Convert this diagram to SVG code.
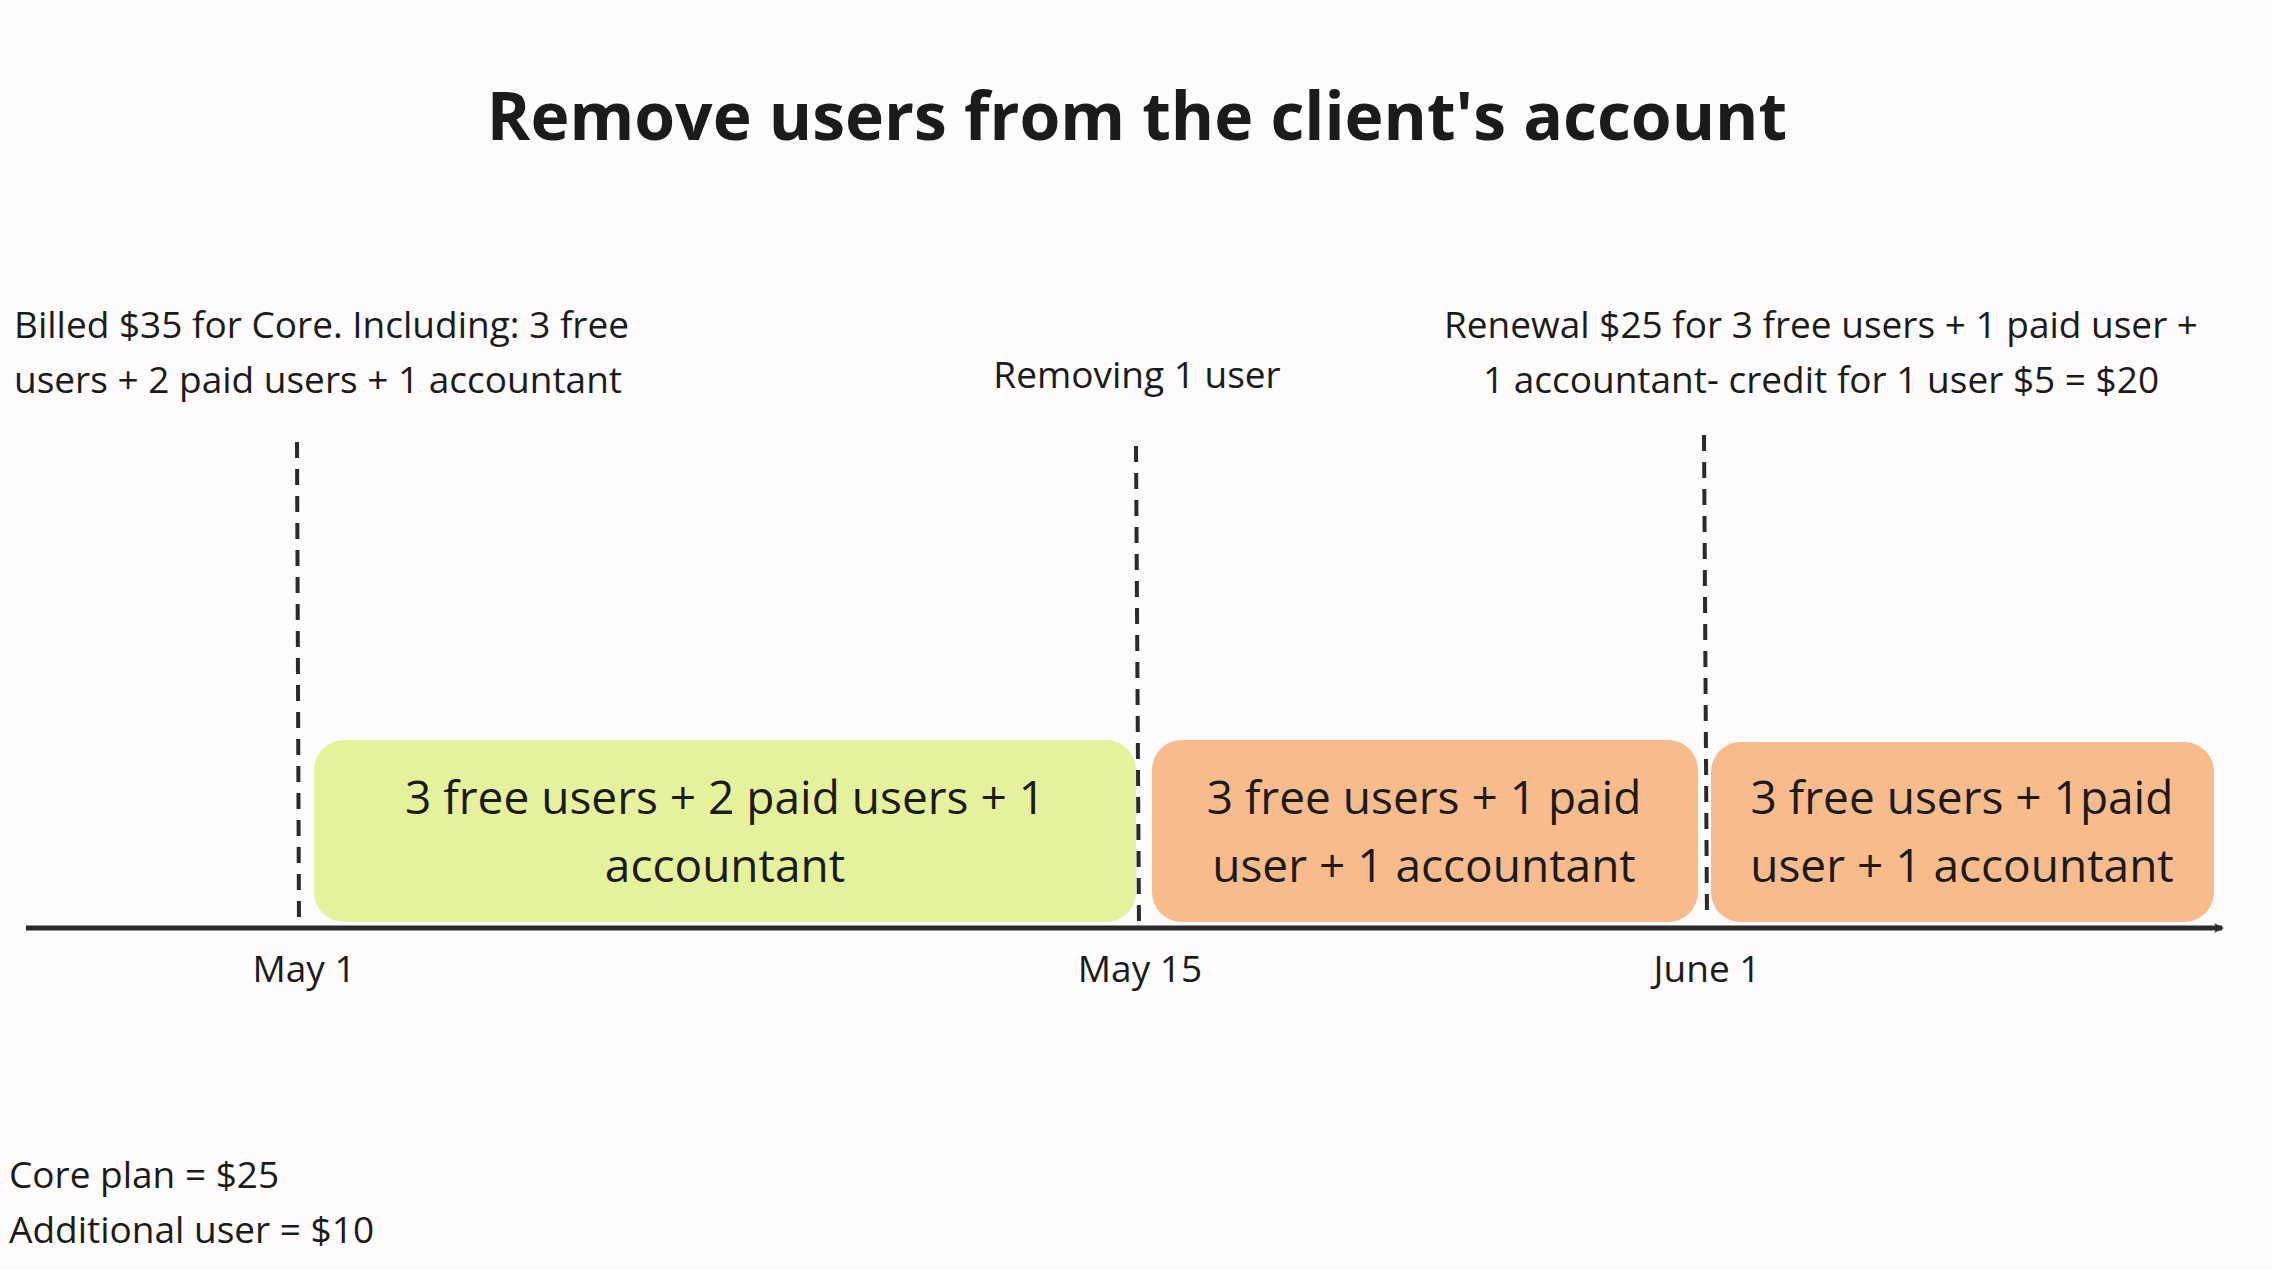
<svg xmlns="http://www.w3.org/2000/svg" width="2272" height="1270" viewBox="0 0 2272 1270">
<style>
text{font-family:"Open Sans","Noto Sans","Liberation Sans",sans-serif;fill:#1b1b1b}
.t{font-size:37px}
.b{font-size:46px;text-anchor:middle}
.c{text-anchor:middle}
.d{stroke:#2a2a2a;stroke-width:4;stroke-dasharray:16 11;fill:none}
</style>
<defs><marker id="ah" markerWidth="10" markerHeight="10" refX="8" refY="5" orient="auto" markerUnits="userSpaceOnUse" viewBox="0 0 10 10"><path d="M0,0 L10,5 L0,10 L3,5 Z" fill="#2a2a2a"/></marker></defs>
<rect width="2272" height="1270" fill="#fdfbfc"/>
<text x="1137" y="140" class="c" style="font-size:66px;font-weight:bold">Remove users from the client's account</text>
<g id="note-left"><text class="t" x="14" y="338">Billed $35 for Core. Including: 3 free</text><text class="t" x="14" y="393">users + 2 paid users + 1 accountant</text></g>
<g id="note-mid"><text class="t c" x="1137" y="388">Removing 1 user</text></g>
<g id="note-right"><text class="t c" x="1821" y="338">Renewal $25 for 3 free users + 1 paid user +</text><text class="t c" x="1821" y="393">1 accountant- credit  for 1 user $5 = $20</text></g>
<g id="box1"><rect x="314" y="740" width="822" height="182" rx="30" fill="#e6f19c"/><text class="b" x="725" y="814">3 free users + 2 paid users + 1</text><text class="b" x="725" y="882">accountant</text></g>
<g id="box2"><rect x="1152" y="740" width="546" height="182" rx="30" fill="#f8bb8c"/><text class="b" x="1424" y="814">3 free users + 1 paid</text><text class="b" x="1424" y="882">user + 1 accountant</text></g>
<g id="box3"><rect x="1711" y="742" width="503" height="180" rx="30" fill="#f8bb8c"/><text class="b" x="1962" y="814">3 free users + 1paid</text><text class="b" x="1962" y="882">user + 1 accountant</text></g>
<g id="connectors">
<line class="d" x1="297" y1="442" x2="299" y2="927"/>
<line class="d" x1="1136" y1="446" x2="1139" y2="927"/>
<line class="d" x1="1704" y1="435" x2="1707" y2="920"/>
<line x1="26" y1="928" x2="2222" y2="928" stroke="#2a2a2a" stroke-width="5" marker-end="url(#ah)"/>
</g>
<style>#ah path{}</style>
<g id="dates"><text class="t c" x="304" y="982">May 1</text><text class="t c" x="1140" y="982">May 15</text><text class="t c" x="1707" y="982">June 1</text></g>
<g id="legend"><text class="t" x="9" y="1188">Core plan = $25</text><text class="t" x="9" y="1243">Additional user = $10</text></g>
</svg>
